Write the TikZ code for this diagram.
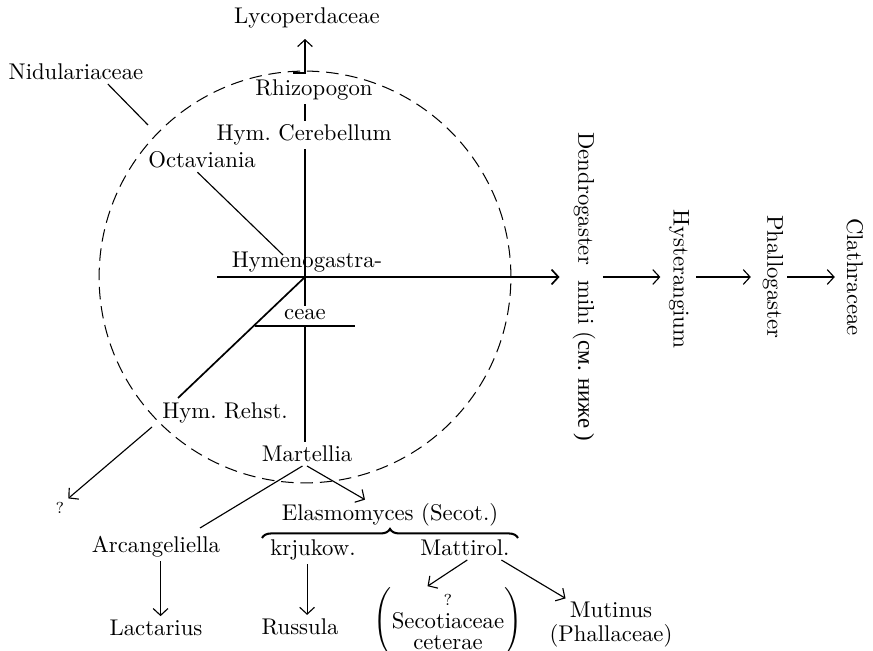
\documentclass[tikz,border=0pt]{standalone}
\usepackage{fontspec}
\newfontfamily\cyrfont{Liberation Serif}
\usepackage{tikz}
\usetikzlibrary{arrows.meta, calc, positioning, decorations.pathreplacing}

\tikzset{
  taxon/.style={inner sep=1.5pt},
  vtaxon/.style={taxon, rotate=-90},
  small/.style={inner sep=1.5pt, font=\scriptsize},
  arr/.style={-{Straight Barb[length=3pt,width=6.5pt]}},
  heavy/.style={line width=0.75pt},
}

\begin{document}
\begin{tikzpicture}[x=0.44pt, y=-0.44pt, line width=0.5pt]
\useasboundingbox (0,0) rectangle (873,651);

% centre of the circle
\coordinate (hub) at (305,277);
\draw[dash pattern=on 5.5pt off 3pt, line width=0.45pt] (hub) circle[radius=90.6pt];

% upper part
\node[taxon] (lyco) at (307,18) {Lycoperdaceae};
\node[taxon] (rhizo) at (314,90) {Rhizopogon};
\node[taxon] (cereb) at (304,135) {Hym.~Cerebellum};
\node[taxon] (nidul) at (76,72) {Nidulariaceae};
\node[taxon] (octav) at (202,160) {Octaviania};
\node[taxon] (hymeno) at (307,262) {Hymenogastra-};
\node[taxon] (ceae) at (305,315) {ceae};
\node[taxon] (rehst) at (225,413) {Hym.~Rehst.};
\node[small] (qmark) at (60,508) {?};
\node[taxon] (mart) at (307,454) {Martellia};

\coordinate (rk) at (293,73);
\coordinate (nidend) at (148,125);
\coordinate (octend) at (283,255);
\coordinate (hstart) at (217,277);
\coordinate (ul) at (255,326);
\coordinate (ur) at (355,326);
\coordinate (rehA) at (178,398);
\coordinate (rehB) at (152,427);

\draw[arr] (rk) -| ([yshift=-3pt]lyco.south -| hub);
\draw (rhizo.south -| hub) -- (cereb.north -| hub);
\draw (cereb.south -| hub) -- (hub);
\draw ([xshift=14pt]nidul.south) -- (nidend);
\draw ([xshift=-2pt]octav.south) -- (octend);
\draw (hub) -- (ceae.north -| hub);
\draw (ul) -- (ur);
\draw (hub |- ul) -- (mart.north -| hub);
\draw[heavy] (hub) -- (rehA);
\draw[arr] (rehB) -- (qmark.north east);

% right row
\node[vtaxon] (dendro) at (584,287) {Dendrogaster~~mihi (\cyrfont см. ниже\/ )};
\node[vtaxon] (hyster) at (679,279) {Hysterangium};
\node[vtaxon] (phallo) at (773,277) {Phallogaster};
\node[vtaxon] (clath) at (855,277) {Clathraceae};

\draw[arr, heavy, shorten >=4pt] (hstart) -- (dendro.south |- hub);
\draw[arr, shorten <=1.5pt, shorten >=2pt] (dendro.north |- hub) -- (hyster.south |- hub);
\draw[arr, shorten <=1.5pt, shorten >=3.5pt] (hyster.north |- hub) -- (phallo.south |- hub);
\draw[arr, shorten >=3.5pt] (phallo.north |- hub) -- (clath.south |- hub);

% lower part
\node[taxon] (arcang) at (156,547) {Arcangeliella};
\node[taxon] (lact) at (156,628) {Lactarius};
\node[taxon] (elasmo) at (390,515) {Elasmomyces (Secot.)};
\node[taxon] (krjuk) at (313,550) {krjukow.};
\node[taxon] (mattir) at (465,548) {Mattirol.};
\node[taxon] (russ) at (300,627) {Russula};
\node[taxon, inner sep=0pt] (secot) at (448,622)
  {$\left(\begin{tabular}{@{}c@{}}{\scriptsize ?}\\[-2pt]Secotiaceae\\[-3pt]ceterae\end{tabular}\right)$};
\node[taxon, align=center] (mutin) at (611,625) {Mutinus\\[-1.4pt](Phallaceae)};

\coordinate (arcend) at (200,528);
\coordinate (bl) at (262,538);
\coordinate (br) at (518,538);

\draw ([xshift=-2pt]mart.south) -- (arcend);
\draw[arr] (mart.south) -- ([xshift=-11pt]elasmo.north);
\draw[decorate, decoration={brace, amplitude=4pt}, line width=0.9pt] (bl) -- (br);
\draw[arr] ([xshift=2pt]arcang.south) -- ([xshift=2pt]lact.north);
\draw[arr] ([xshift=-2.6pt]krjuk.south) -- ([xshift=-2.6pt]krjuk.south |- russ.north);
\draw[arr] ([xshift=1pt]mattir.south) -- ([xshift=-9pt]secot.north);
\draw[arr] ([xshift=16pt]mattir.south) -- ([xshift=-20pt]mutin.north);
\end{tikzpicture}
\end{document}
